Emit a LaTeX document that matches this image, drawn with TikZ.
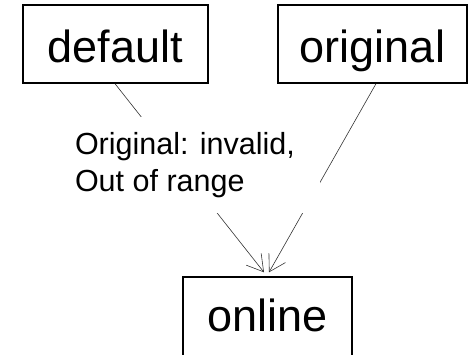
\documentclass[tikz,border=0pt]{standalone}
\usepackage{fontspec}
\setmainfont{Liberation Sans}
\usetikzlibrary{arrows.meta}
\begin{document}
\begin{tikzpicture}[x=1pt,y=-1pt,
  box/.style={draw, line width=1.4pt, inner sep=0pt, text height=36pt, text depth=0pt,
    minimum height=78pt, font=\fontsize{45}{54}\selectfont},
  edge/.style={line width=0.6pt, draw=black!80, -{Straight Barb[length=16pt,width=19pt]}},
  lbl/.style={fill=white, inner sep=0pt, minimum width=250pt, minimum height=96pt,
    text width=240pt, align=flush left, font=\fontsize{30.5}{37}\selectfont}]
\useasboundingbox (0,0) rectangle (470,354);
\node[box, minimum width=185pt] (def) at (115.5,44) {default};
\node[box, minimum width=189pt] (orig) at (372.5,44) {original};
\node[box, minimum width=169pt, minimum height=84pt, text height=24pt] (on) at (267.5,319) {online};
\draw[edge] ([xshift=-0.5pt]def.south) -- ([xshift=-3.5pt,yshift=4pt]on.north);
\draw[edge] ([xshift=3.5pt]orig.south) -- ([xshift=1.5pt,yshift=4pt]on.north);
\node[lbl] (lab) at (195,165) {Original: invalid,\\Out of range};
\end{tikzpicture}
\end{document}
